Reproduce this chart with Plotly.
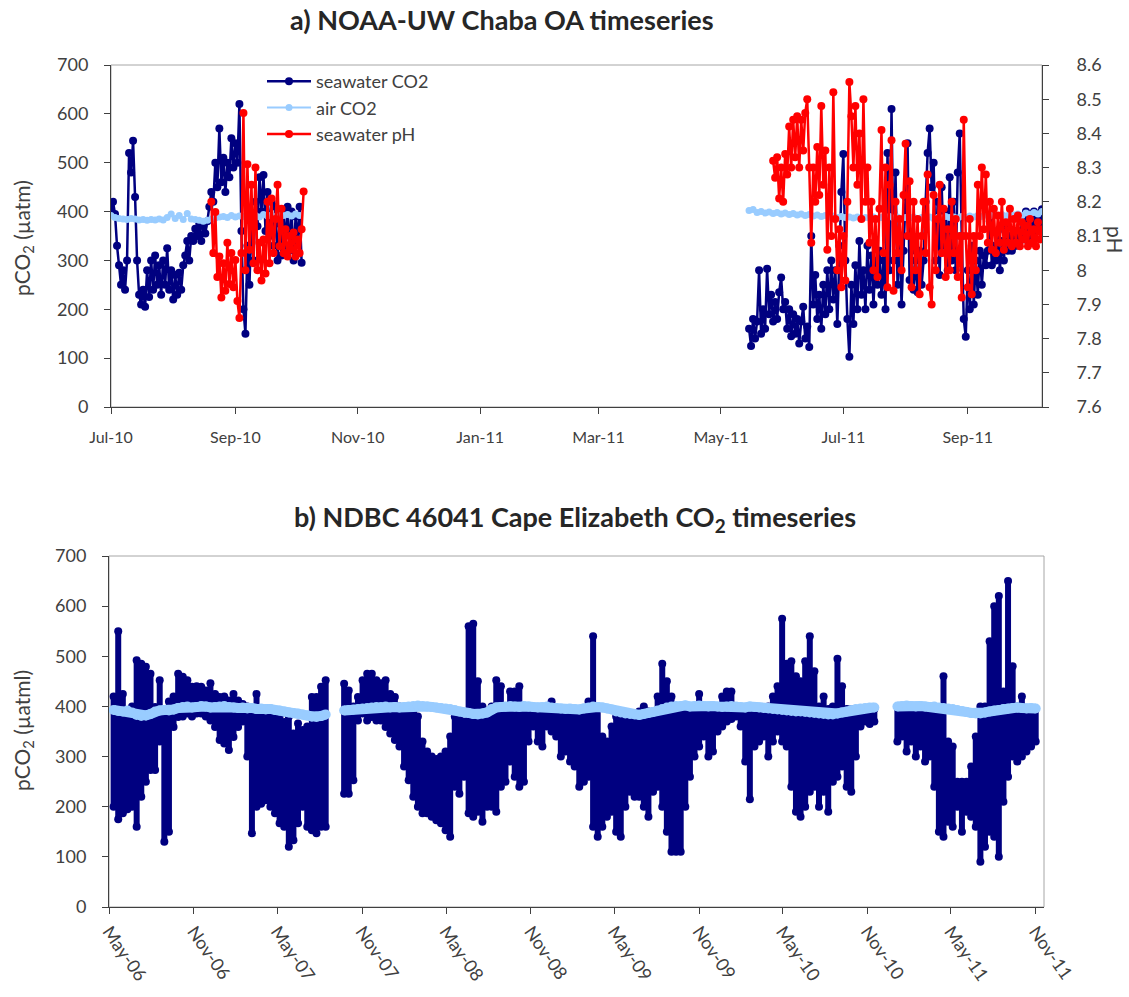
import pandas as pd
import plotly.graph_objects as go

NAVY = "#000080"
LIGHT = "#99CCFF"
RED = "#FF0000"
AXIS = "#404040"
FONT = "Lato"
W, H = 1129, 997

# ---------------- Panel a: NOAA-UW Chaba ----------------
# seawater pCO2, daily from 2010-07-01
sw_co2_2010 = [405, 420, 395, 330, 290, 250, 280, 240, 300, 520,
               480, 545, 430, 300, 230, 210, 240, 205, 280, 225,
               300, 240, 310, 250, 290, 230, 300, 250, 325, 240,
               280, 220, 270, 230, 275, 240, 290, 310, 340, 300,
               350, 340, 365, 350, 375, 340, 370, 355, 380, 410,
               440, 420, 500, 450, 570, 460, 510, 440, 500, 470,
               550, 490, 540, 500, 620, 360, 200, 150, 330, 250,
               380, 300, 420, 370, 470, 400, 475, 360, 440, 350,
               420, 330, 410, 300, 375, 310, 400, 330, 410, 320,
               400, 300, 390, 340, 410, 295]
# air pCO2, every 2 days from 2010-07-01
air_co2_2010 = [392, 388, 386, 385, 384, 386, 385, 383, 384, 382,
                384, 383, 385, 383, 388, 395, 386, 392, 384, 396,
                385, 384, 382, 380, 382, 385, 387, 389, 390, 388,
                392, 389, 391, 390, 393, 390, 392, 389, 394, 391,
                393, 390, 395, 392, 394, 391, 395, 392]
# seawater pH, daily from 2010-08-20
ph_2010 = [8.20, 8.05, 8.17, 7.98, 8.04, 7.92, 8.02, 7.94, 8.08, 7.96,
           8.05, 7.95, 8.03, 7.91, 7.86, 8.05, 8.46, 8.00, 8.31, 8.06,
           8.25, 8.02, 8.30, 8.00, 8.08, 7.97, 8.09, 7.99, 8.20, 8.02,
           8.21, 8.05, 8.15, 8.25, 8.07, 8.18, 8.05, 8.12, 8.04, 8.10,
           8.06, 8.11, 8.04, 8.09, 8.05, 8.12, 8.23]
# seawater pCO2, daily from 2011-05-15
sw_co2_2011 = [160, 125, 180, 140, 175, 280, 150, 200, 160, 283,
               190, 230, 175, 215, 180, 235, 265, 200, 215, 160,
               200, 145, 190, 150, 180, 130, 175, 205, 140, 165,
               123, 350, 210, 270, 180, 230, 160, 250, 190, 280,
               200, 300, 220, 280, 170, 330, 440, 518, 300, 180,
               103, 250, 170, 290, 200, 340, 230, 280, 200, 330,
               240, 310, 210, 300, 250, 320, 230, 300, 200, 520,
               280, 610, 300, 480, 250, 340, 210, 320, 430, 540,
               260, 320, 240, 300, 235, 320, 250, 300, 420, 520,
               570, 450, 500, 300, 420, 270, 450, 330, 400, 280,
               470, 300, 420, 280, 480, 560, 350, 180, 144, 280,
               200, 330, 210, 300, 230, 320, 250, 310, 290, 320,
               380, 290, 330, 300, 360, 280, 340, 300, 365, 320,
               350, 320, 350, 330, 360, 340, 380, 350, 400, 340,
               380, 350, 400, 360, 390, 370, 405]
# air pCO2, every 2 days from 2011-05-15
air_co2_2011 = [402, 404, 398, 400, 397, 399, 396, 398, 395, 397,
                394, 396, 393, 395, 392, 394, 391, 393, 390, 392,
                389, 391, 388, 390, 388, 389, 387, 389, 386, 388,
                387, 389, 386, 388, 385, 390, 387, 389, 386, 388,
                387, 389, 386, 388, 387, 389, 386, 388, 387, 390,
                388, 389, 387, 390, 388, 391, 389, 392, 390, 393,
                391, 395, 392, 394, 391, 396, 393, 395, 392, 397,
                394, 398, 395, 400]
# seawater pH, daily from 2011-05-27
ph_2011 = [8.32, 8.27, 8.33, 8.21, 8.30, 8.20, 8.34, 8.28, 8.42, 8.30,
           8.44, 8.33, 8.45, 8.30, 8.44, 8.35, 8.46, 8.50, 8.30, 8.08,
           8.30, 8.20, 8.36, 8.22, 8.48, 8.25, 8.35, 8.06, 8.30, 8.10,
           8.52, 8.15, 8.00, 8.12, 7.95, 8.10, 7.97, 8.20, 8.55, 8.45,
           8.30, 8.48, 8.25, 8.40, 8.15, 8.50, 8.20, 8.30, 8.08, 8.20,
           8.00, 8.15, 7.98, 8.18, 8.41, 8.05, 8.30, 7.95, 8.25, 8.38,
           7.94, 8.20, 8.05, 8.15, 8.00, 8.22, 8.37, 8.10, 8.26, 7.95,
           8.20, 8.00, 8.15, 7.93, 8.10, 8.20, 8.05, 8.28, 7.95, 7.90,
           8.22, 8.00, 8.15, 8.25, 8.05, 8.18, 7.98, 8.12, 8.00, 8.20,
           8.05, 8.15, 7.98, 8.10, 7.92, 8.44, 8.10, 7.95, 8.15, 7.93,
           8.10, 8.00, 8.25, 8.10, 8.30, 8.12, 8.28, 8.08, 8.20, 8.06,
           8.18, 8.05, 8.16, 8.08, 8.20, 8.06, 8.14, 8.08, 8.18, 8.07,
           8.15, 8.08, 8.16, 8.07, 8.14, 8.09, 8.13, 8.07, 8.15, 8.08,
           8.12, 8.07, 8.14, 8.09, 8.12]

ph_ticks = [7.6, 7.7, 7.8, 7.9, 8.0, 8.1, 8.2, 8.3, 8.4, 8.5, 8.6]
ph_labels = ["7.6", "7.7", "7.8", "7.9", "8", "8.1", "8.2", "8.3", "8.4", "8.5", "8.6"]

# ---------------- Panel b: NDBC 46041 (10-day samples from 2006-05-11) ----------------
b_sw_hi = [420, 550, 425, 392, 400, 492, 485, 479, 465, 399,
           452, 390, 410, 420, 465, 459, 452, 439, 440, 439,
           432, 446, 425, 419, 420, 412, 425, 412, 405, 400,
           386, 425, 386, 386, 386, 380, 380, 369, 380, 346,
           366, 353, 360, 419, 419, 439, 452, None, None, None,
           445, 432, 400, 419, 452, 465, 465, 452, 446, 452,
           425, 419, 400, 395, 395, 390, 380, 330, 310, 300,
           295, 300, 310, 340, 380, 380, 370, 560, 565, 450,
           400, 380, 400, 452, 440, 400, 430, 430, 440, 400,
           395, 395, 395, 395, 395, 410, 395, 395, 395, 395,
           395, 395, 390, 410, 540, 400, 340, 330, 360, 380,
           380, 380, 380, 385, 390, 400, 390, 390, 420, 485,
           450, 420, 400, 390, 390, 390, 390, 425, 390, 390,
           390, 395, 420, 430, 430, 400, 395, 395, 395, 395,
           390, 390, 400, 420, 440, 575, 485, 490, 460, 450,
           490, 540, 470, 400, 420, 395, 400, 495, 440, 395,
           395, 395, 395, 395, 395, 395, None, None, None, None,
           400, 395, 395, 395, 395, 395, 395, 395, 395, 390,
           460, 330, 320, 250, 250, 250, 280, 340, 400, 400,
           530, 600, 620, 430, 650, 480, 400, 420, 395, 395,
           395]
b_sw_lo = [200, 175, 187, 195, 200, 160, 220, 250, 273, 273,
           330, 130, 150, 359, 379, 380, 386, 380, 386, 386,
           380, 372, 359, 333, 326, 313, 339, 359, 370, 300,
           147, 200, 206, 213, 200, 187, 167, 160, 120, 133,
           167, 200, 160, 153, 147, 160, 160, None, None, None,
           226, 226, 253, 372, 386, 372, 379, 372, 372, 359,
           346, 333, 320, 280, 253, 220, 200, 187, 187, 180,
           173, 167, 153, 140, 240, 226, 260, 187, 180, 190,
           170, 200, 200, 190, 240, 250, 290, 260, 240, 250,
           330, 360, 330, 320, 360, 350, 340, 300, 310, 290,
           280, 240, 250, 260, 160, 140, 160, 180, 190, 150,
           140, 200, 230, 220, 220, 200, 180, 230, 240, 200,
           150, 110, 110, 110, 200, 260, 300, 320, 340, 300,
           310, 350, 360, 370, 375, 380, 360, 290, 215, 320,
           330, 340, 300, 330, 350, 330, 320, 240, 190, 180,
           200, 230, 240, 200, 230, 190, 250, 260, 280, 240,
           230, 300, 360, 370, 365, 370, None, None, None, None,
           330, 340, 310, 330, 300, 320, 290, 300, 240, 150,
           140, 170, 160, 200, 150, 190, 180, 160, 90, 120,
           150, 140, 100, 210, 260, 300, 290, 300, 310, 320,
           330]
b_air = [393, 391, 390, 392, 388, 383, 381, 382, 385, 390,
         392, 393, 392, 394, 397, 399, 400, 398, 399, 401,
         400, 398, 399, 400, 401, 399, 398, 397, 398, 396,
         397, 395, 396, 394, 395, 393, 392, 390, 388, 387,
         386, 384, 382, 380, 379, 381, 384, None, None, None,
         392, 393, 394, 395, 396, 397, 398, 399, 399, 400,
         398, 399, 398, 399, 400, 401, 402, 401, 400, 399,
         398, 397, 396, 395, 393, 390, 388, 387, 385, 384,
         386, 388, 395, 398, 399, 400, 401, 400, 399, 401,
         400, 399, 398, 399, 400, 398, 397, 396, 395, 396,
         395, 394, 396, 398, 400, 399, 398, 396, 394, 390,
         388, 386, 385, 384, 383, 385, 387, 389, 392, 395,
         398, 400, 401, 401, 402, 400, 401, 402, 401, 400,
         401, 400, 399, 400, 401, 400, 399, 398, 400, 399,
         398, 397, 396, 395, 394, 393, 392, 391, 390, 390,
         389, 388, 387, 386, 385, 384, 384, 386, 388, 390,
         393, 395, 396, 397, 398, 398, None, None, None, None,
         400, 401, 402, 401, 400, 401, 400, 399, 400, 398,
         397, 396, 395, 393, 391, 389, 387, 386, 386, 388,
         390, 392, 393, 395, 396, 397, 398, 397, 396, 397,
         396]


def dates(start, n, step):
    return list(pd.date_range(start, periods=n, freq=f"{step}D"))


def join(x1, y1, x2, y2):
    return x1 + [None] + x2, list(y1) + [None] + list(y2)


def fx(px):
    return px / W


def fy(py):
    return 1 - py / H


fig = go.Figure()

# panel a traces
x, y = join(dates("2010-07-01", len(sw_co2_2010), 1), sw_co2_2010,
            dates("2011-05-15", len(sw_co2_2011), 1), sw_co2_2011)
fig.add_trace(go.Scatter(x=x, y=y, name="seawater CO2", mode="lines+markers",
                         line=dict(color=NAVY, width=2.5), marker=dict(color=NAVY, size=8),
                         xaxis="x", yaxis="y"))
x, y = join(dates("2010-07-01", len(air_co2_2010), 2), air_co2_2010,
            dates("2011-05-15", len(air_co2_2011), 2), air_co2_2011)
fig.add_trace(go.Scatter(x=x, y=y, name="air CO2", mode="lines+markers",
                         line=dict(color=LIGHT, width=2), marker=dict(color=LIGHT, size=7),
                         xaxis="x", yaxis="y"))
x, y = join(dates("2010-08-20", len(ph_2010), 1), ph_2010,
            dates("2011-05-27", len(ph_2011), 1), ph_2011)
fig.add_trace(go.Scatter(x=x, y=y, name="seawater pH", mode="lines+markers",
                         line=dict(color=RED, width=2.5), marker=dict(color=RED, size=8),
                         xaxis="x", yaxis="y2"))

# panel b traces
b_dates = dates("2006-05-11", len(b_sw_hi), 10)
bx, by = [], []
for d, lo, hi in zip(b_dates, b_sw_lo, b_sw_hi):
    if lo is None:
        continue
    bx += [d, d, None]
    by += [lo, hi, None]
fig.add_trace(go.Scatter(x=bx, y=by, mode="lines+markers", showlegend=False,
                         line=dict(color=NAVY, width=6), marker=dict(color=NAVY, size=8),
                         xaxis="x2", yaxis="y3"))
fig.add_trace(go.Scatter(x=b_dates, y=b_air, mode="lines+markers", showlegend=False,
                         connectgaps=False,
                         line=dict(color=LIGHT, width=10), marker=dict(color=LIGHT, size=10),
                         xaxis="x2", yaxis="y3"))


def axis_style(size):
    return dict(showgrid=False, zeroline=False, showline=True, linecolor=AXIS, linewidth=1,
                ticks="outside", ticklen=6, tickcolor=AXIS, automargin=False,
                tickfont=dict(family=FONT, size=size, color=AXIS))


pa_x = [fx(111), fx(1042)]
pa_y = [fy(407), fy(65)]
pb_x = [fx(109), fx(1044)]
pb_y = [fy(907), fy(556)]


def label(text, x, y, size, angle=0, bold=False, color=AXIS):
    return dict(text=f"<b>{text}</b>" if bold else text, x=fx(x), y=fy(y),
                xref="paper", yref="paper", xanchor="center", yanchor="middle",
                textangle=angle, showarrow=False,
                font=dict(family=FONT, size=size, color=color))


fig.update_layout(
    width=W, height=H, autosize=False,
    margin=dict(l=0, r=0, t=0, b=0, autoexpand=False),
    paper_bgcolor="white", plot_bgcolor="white",
    font=dict(family=FONT, size=16, color=AXIS),
    xaxis=dict(domain=pa_x, anchor="y", type="date",
               range=["2010-07-01", "2011-10-08"], tick0="2010-07-01", dtick="M2",
               tickformat="%b-%y", ticklabelstandoff=10, **axis_style(16)),
    yaxis=dict(domain=pa_y, anchor="x", range=[0, 700], dtick=100,
               ticklabelstandoff=12, **axis_style(18)),
    yaxis2=dict(overlaying="y", side="right", anchor="x", range=[7.6, 8.6],
                tickvals=ph_ticks, ticktext=ph_labels, ticklabelstandoff=24, **axis_style(18)),
    xaxis2=dict(domain=pb_x, anchor="y3", type="date",
                range=["2006-05-01", "2011-11-19"], tick0="2006-05-01", dtick="M6",
                tickformat="%b-%y", tickangle=55, ticklabelstandoff=0, **axis_style(18)),
    yaxis3=dict(domain=pb_y, anchor="x2", range=[0, 700], dtick=100,
                ticklabelstandoff=12, **axis_style(18)),
    legend=dict(x=fx(262), y=fy(63), xanchor="left", yanchor="top",
                bgcolor="rgba(0,0,0,0)", tracegroupgap=0, itemwidth=44,
                font=dict(family=FONT, size=18, color=AXIS)),
    shapes=[
        dict(type="rect", xref="paper", yref="paper", x0=pa_x[0], x1=pa_x[1], y0=pa_y[0], y1=pa_y[1],
             line=dict(color="#A6A6A6", width=1), layer="below"),
        dict(type="rect", xref="paper", yref="paper", x0=pb_x[0], x1=pb_x[1], y0=pb_y[0], y1=pb_y[1],
             line=dict(color="#A6A6A6", width=1), layer="below"),
    ],
    annotations=[
        label("a) NOAA-UW Chaba OA timeseries", 502, 19, 27, bold=True, color="#262626"),
        label("b) NDBC 46041 Cape Elizabeth CO<sub>2</sub> timeseries", 575, 518, 27, bold=True,
              color="#262626"),
        label("pCO<sub>2</sub> (µatm)", 23, 238, 21, angle=-90),
        label("pH", 1116, 240, 21, angle=90),
        label("pCO<sub>2</sub> (µatml)", 23, 731, 21, angle=-90),
    ],
)

# remove the page's default body margin so the figure fills the window exactly
fig.write_html("out.html", config={"displayModeBar": False},
               post_script="document.body.style.margin='0px';document.body.style.overflow='hidden';")
